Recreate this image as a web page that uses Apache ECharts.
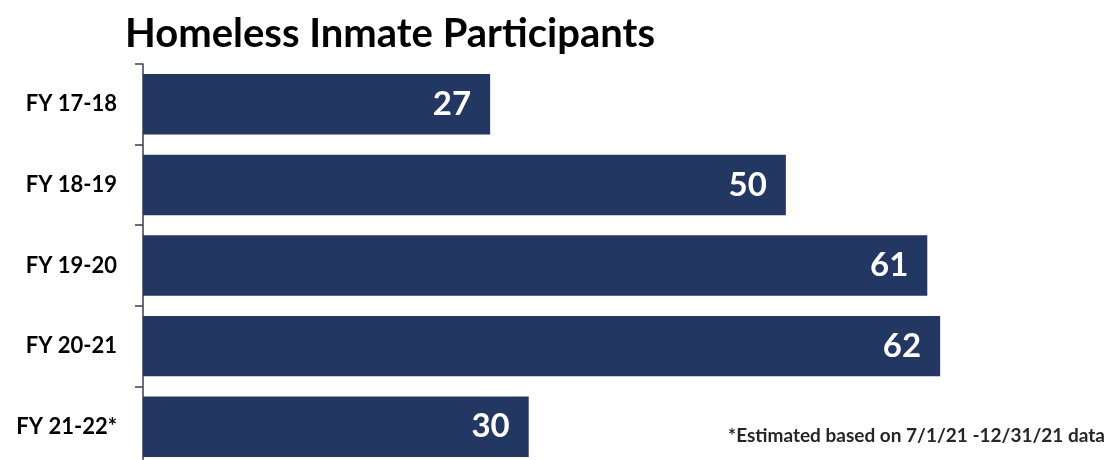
<!DOCTYPE html>
<html><head><meta charset="utf-8">
<script src="https://cdn.jsdelivr.net/npm/echarts@6/dist/echarts.min.js"></script>
<style>html,body{margin:0;padding:0;background:#fff}#c{width:1107px;height:460px}</style>
</head><body><div id="c"></div>
<script>
const categories = ['FY 17-18', 'FY 18-19', 'FY 19-20', 'FY 20-21', 'FY 21-22*'];
const participants = [27, 50, 61, 62, 30];
const titleText = 'Homeless Inmate Participants';
const footnote = '*Estimated based on 7/1/21 -12/31/21 data';

const chart = echarts.init(document.getElementById('c'));
chart.setOption({
  animation: false,
  backgroundColor: '#ffffff',
  title: {
    text: titleText, left: 120, top: 9,
    textStyle: { fontFamily: 'Lato', fontWeight: 'bold', fontSize: 40, color: '#000' }
  },
  graphic: [{
    type: 'text', right: 2, top: 426,
    style: { text: footnote, font: 'bold 19px Lato', fill: '#262626' }
  }],
  grid: { left: 143, top: 64, width: 900, height: 403, containLabel: false, outerBoundsMode: 'none' },
  xAxis: { type: 'value', min: 0, max: 70, show: false },
  yAxis: {
    type: 'category', data: categories, inverse: true,
    axisLine: { lineStyle: { color: '#3a3f4a', width: 1.5 } },
    axisTick: { show: true, length: 8, lineStyle: { color: '#3a3f4a', width: 1.5 } },
    axisLabel: { margin: 26, fontFamily: 'Lato', fontWeight: 'bold', fontSize: 22, color: '#000' }
  },
  series: [{
    type: 'bar', data: participants, barCategoryGap: '25%',
    itemStyle: { color: '#223862' },
    label: {
      show: true, position: 'insideRight', distance: 19,
      fontFamily: 'Lato', fontWeight: 'bold', fontSize: 33, color: '#fff'
    }
  }]
});
</script></body></html>
